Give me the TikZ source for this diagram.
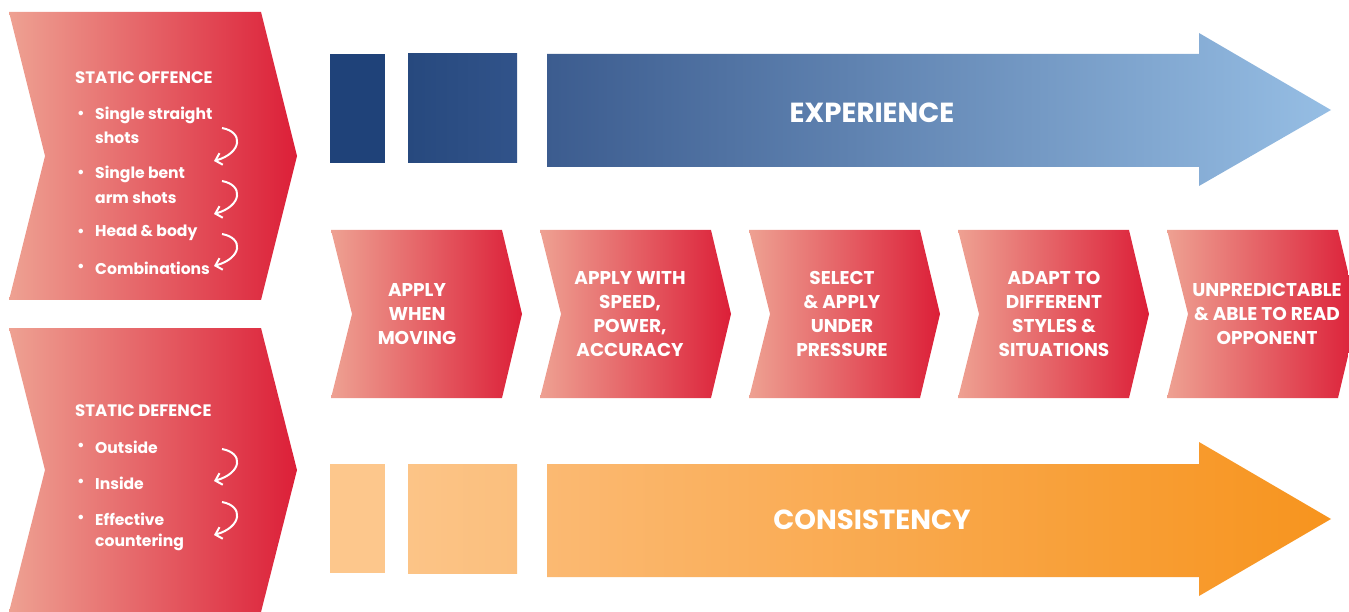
\documentclass[tikz,border=0pt]{standalone}
\usepackage{fontspec}
\setmainfont{Poppins}
\usetikzlibrary{arrows.meta,calc}
\definecolor{redL}{HTML}{EEA192}
\definecolor{redR}{HTML}{DC1F38}
\definecolor{navyA}{HTML}{1F4279}
\definecolor{navyB}{HTML}{27497E}
\definecolor{navyC}{HTML}{31538A}
\definecolor{blueS}{HTML}{3C5C8F}
\definecolor{blueE}{HTML}{96BEE4}
\definecolor{orA}{HTML}{FDC78C}
\definecolor{orB}{HTML}{FCC487}
\definecolor{orC}{HTML}{FBBF7D}
\definecolor{orS}{HTML}{FBB972}
\definecolor{orE}{HTML}{F7941E}
\tikzset{
  redchev/.style={left color=redL,right color=redR,draw=none},
  bigtxt/.style={text=white,font=\bfseries\fontsize{27.6}{32}\selectfont},
  chevtxt/.style={text=white,align=center,font=\bfseries\fontsize{18.5}{24}\selectfont},
  headtxt/.style={text=white,anchor=west,font=\bfseries\fontsize{16.6}{20}\selectfont,inner sep=0pt},
  itemtxt/.style={text=white,anchor=west,font=\bfseries\fontsize{15.6}{20}\selectfont,inner sep=0pt},
  bul/.style={text=white,font=\bfseries\fontsize{15}{20}\selectfont,inner sep=0pt},
  curv/.style={white,line width=2pt,-{Straight Barb[length=6pt,width=12pt]}},
}
\begin{document}
\begin{tikzpicture}[x=1pt,y=-1pt]
\useasboundingbox (0,0) rectangle (1349,612);
\clip (0,0) rectangle (1349,612);
% left chevrons
\shade[redchev] (9,12) -- (261,12) -- (297,156) -- (261,300) -- (9,300) -- (45,156) -- cycle;
\shade[redchev] (9,328) -- (261,328) -- (297,470) -- (261,612) -- (9,612) -- (45,470) -- cycle;
% middle chevrons
\foreach \L in {331,540,749,958,1167}{
  \shade[redchev] (\L,230) -- (\L+171,230) -- (\L+191,314) -- (\L+171,398) -- (\L,398) -- (\L+21,314) -- cycle;
}
% top blue
\fill[navyA] (330,54) rectangle (385,163);
\shade[left color=navyB,right color=navyC] (408,54) rectangle (517,163);
\shade[left color=blueS,right color=blueE] (547,54) -- (1199,54) -- (1199,33) -- (1331,110) -- (1199,186) -- (1199,167) -- (547,167) -- cycle;
% bottom orange
\fill[orA] (330,464) rectangle (385,573);
\shade[left color=orB,right color=orC] (408,464) rectangle (517,573);
\shade[left color=orS,right color=orE] (547,464) -- (1199,464) -- (1199,442) -- (1331,519) -- (1199,596) -- (1199,577) -- (547,577) -- cycle;
% big labels
\node[bigtxt] (exp) at (872,113) {EXPERIENCE};
\node[bigtxt] (con) at (872,520) {CONSISTENCY};
% middle chevron texts
\node[chevtxt] (c1) at (417,314) {APPLY\\WHEN\\MOVING};
\node[chevtxt] (c2) at (630,314) {APPLY WITH\\SPEED,\\POWER,\\ACCURACY};
\node[chevtxt] (c3) at (842,314) {SELECT\\\&~APPLY\\UNDER\\PRESSURE};
\node[chevtxt] (c4) at (1054,314) {ADAPT TO\\DIFFERENT\\STYLES \&\\SITUATIONS};
\node[chevtxt] (c5) at (1267,314) {UNPREDICTABLE\\\&~ABLE TO READ\\OPPONENT};
% static offence
\node[headtxt] (so) at (75,78) {STATIC OFFENCE};
\node[bul] (b1) at (81,115) {•};
\node[itemtxt] (o1a) at (95,115) {Single straight};
\node[itemtxt] (o1b) at (95,138) {shots};
\node[bul] (b2) at (81,174) {•};
\node[itemtxt] (o2a) at (95,174) {Single bent};
\node[itemtxt] (o2b) at (95,198) {arm shots};
\node[bul] (b3) at (81,233) {•};
\node[itemtxt] (o3) at (95,233) {Head \& body};
\node[bul] (b4) at (81,268) {•};
\node[itemtxt] (o4) at (95,268) {Combinations};
% static defence
\node[headtxt] (sd) at (75,411) {STATIC DEFENCE};
\node[bul] (b5) at (81,447) {•};
\node[itemtxt] (d1) at (95,447) {Outside};
\node[bul] (b6) at (81,483) {•};
\node[itemtxt] (d2) at (95,483) {Inside};
\node[bul] (b7) at (81,519) {•};
\node[itemtxt] (d3a) at (95,519) {Effective};
\node[itemtxt] (d3b) at (95,542) {countering};
% curved arrows
\coordinate (a1s) at (222,128); \coordinate (a1e) at (214,161);
\coordinate (a2s) at (222,181); \coordinate (a2e) at (214,214);
\coordinate (a3s) at (222,234); \coordinate (a3e) at (214,266);
\coordinate (a4s) at (222,449); \coordinate (a4e) at (214,481);
\coordinate (a5s) at (222,502); \coordinate (a5e) at (214,535);
\foreach \s/\e in {a1s/a1e,a2s/a2e,a3s/a3e,a4s/a4e,a5s/a5e}{
  \draw[curv] (\s) .. controls ($(\s)+(22,4)$) and ($(\e)+(28,-8)$) .. (\e);
}
\end{tikzpicture}
\end{document}
